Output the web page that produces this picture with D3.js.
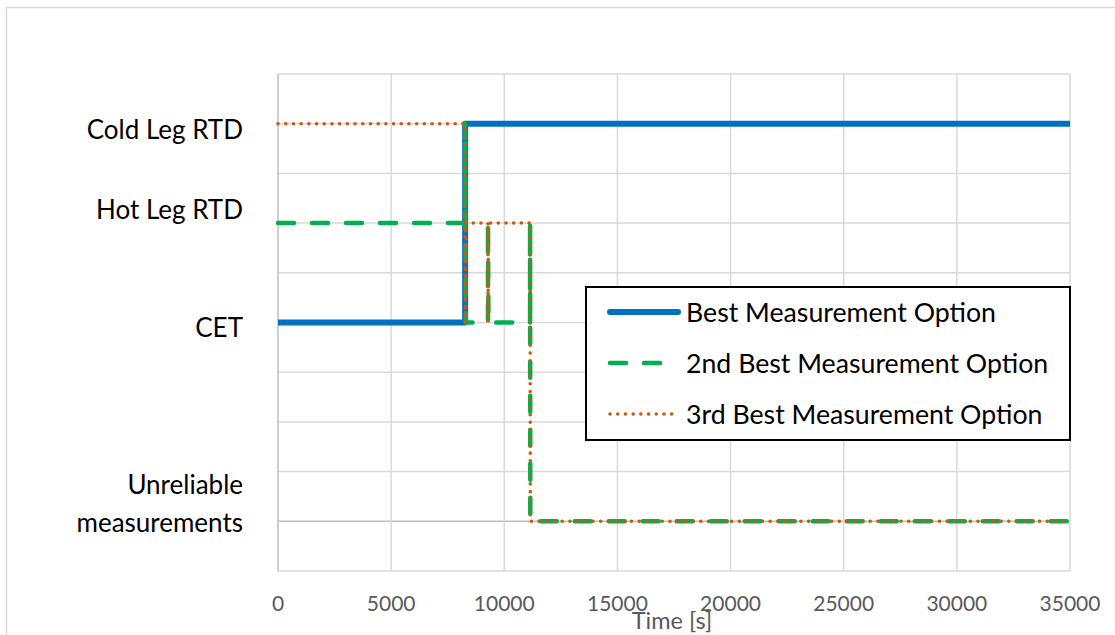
<!DOCTYPE html>
<html lang="en">
  <head>
    <meta charset="UTF-8" />
    <title>Measurement options</title>
    <style>
      body { margin: 0; background: #fff; }
      text { font-family: Lato, "Open Sans", sans-serif; }
    </style>
  </head>
  <body>
    <div id="chart"></div>
    <script src="https://cdn.jsdelivr.net/npm/d3@7"></script>
    <script>
      // levels on the y axis
      const levelNames = ["Cold Leg RTD", "Hot Leg RTD", "CET", "Unreliable\nmeasurements"];
      const levelValues = [9, 7, 5, 1];

      const xTicks = [0, 5000, 10000, 15000, 20000, 25000, 30000, 35000];

      // [time s, level]
      const bestData = [[0, 5], [8270, 5], [8270, 9], [35000, 9]];
      const secondData = [[0, 7], [8270, 7], [8270, 9], [8300, 5], [9280, 5], [9280, 7], [9300, 5],
        [11140, 5], [11140, 7], [11150, 1], [35000, 1]];
      const thirdData = [[0, 9], [8270, 9], [8270, 5], [8300, 7], [9280, 7], [9280, 5], [9300, 7],
        [11140, 7], [11150, 1], [35000, 1]];

      const seriesNames = ["Best Measurement Option", "2nd Best Measurement Option", "3rd Best Measurement Option"];

      const W = 1115, H = 635;
      const svg = d3.select("#chart").append("svg").attr("width", W).attr("height", H);

      // outer chart border
      svg.append("rect").attr("x", 6.5).attr("y", 7.5).attr("width", 1120).attr("height", 640)
        .attr("fill", "none").attr("stroke", "#d9d9d9").attr("stroke-width", 1.5);

      const x = d3.scaleLinear().domain([0, 35000]).range([278, 1070]);
      const y = d3.scaleLinear().domain([0, 10]).range([571, 74]);

      const grid = svg.append("g");
      grid.selectAll(".hg").data(d3.range(0, 11)).join("line")
        .attr("x1", x(0)).attr("x2", x(35000))
        .attr("y1", d => y(d)).attr("y2", d => y(d))
        .attr("stroke", d => d === 1 ? "#bfbfbf" : "#d9d9d9").attr("stroke-width", 1.5);
      grid.selectAll(".vg").data(xTicks.slice(1)).join("line")
        .attr("x1", d => x(d)).attr("x2", d => x(d))
        .attr("y1", y(10)).attr("y2", y(0))
        .attr("stroke", "#d9d9d9").attr("stroke-width", 1.5);
      grid.append("line").attr("x1", x(0)).attr("x2", x(0)).attr("y1", y(10)).attr("y2", y(0))
        .attr("stroke", "#bfbfbf").attr("stroke-width", 1.5);

      // x axis labels
      svg.append("g").selectAll("text").data(xTicks).join("text")
        .attr("x", d => x(d)).attr("y", 611)
        .attr("text-anchor", "middle").attr("font-size", 21).attr("fill", "#595959")
        .text(d => d);
      svg.append("text").attr("x", 672).attr("y", 629).attr("text-anchor", "middle")
        .attr("font-size", 23.5).attr("fill", "#595959").text("Time [s]");

      // y category labels
      const labelShift = { "Cold Leg RTD": 15, "Hot Leg RTD": -4, "CET": 14, "Unreliable\nmeasurements": -27 };
      levelNames.forEach((name, i) => {
        const t = svg.append("text").attr("text-anchor", "end").attr("font-size", 26).attr("fill", "#000")
          .attr("x", 243).attr("y", y(levelValues[i]) + labelShift[name]);
        name.split("\n").forEach((line, j) => {
          t.append("tspan").attr("x", 243).attr("dy", j === 0 ? 0 : 38).text(line);
        });
      });

      const line = d3.line().x(d => x(d[0])).y(d => y(d[1]));

      const styles = [
        { color: "#0070c0", width: 6, dash: null, cap: "butt" },
        { color: "#00b050", width: 4.5, dash: "16,18", cap: "round" },
        { color: "#c55a11", width: 3.5, dash: "0.1,7.6", cap: "round" }
      ];
      const allData = [bestData, secondData, thirdData];

      allData.forEach((data, i) => {
        const s = styles[i];
        svg.append("path").datum(data).attr("d", line)
          .attr("fill", "none").attr("stroke", s.color).attr("stroke-width", s.width)
          .attr("stroke-dasharray", s.dash).attr("stroke-linecap", s.cap)
          .attr("stroke-linejoin", "round");
      });

      // legend
      const lg = svg.append("g");
      lg.append("rect").attr("x", 586).attr("y", 287).attr("width", 484).attr("height", 153)
        .attr("fill", "#fff").attr("stroke", "#000").attr("stroke-width", 2);
      seriesNames.forEach((name, i) => {
        const s = styles[i];
        const ly = 312 + i * 51;
        lg.append("line").attr("x1", 610).attr("x2", i === 2 ? 674 : 678).attr("y1", ly).attr("y2", ly)
          .attr("stroke", s.color).attr("stroke-width", s.width)
          .attr("stroke-dasharray", s.dash).attr("stroke-linecap", "round");
        lg.append("text").attr("x", 686).attr("y", ly + 9.5).attr("font-size", 26.7).attr("fill", "#000")
          .text(name);
      });
    </script>
  </body>
</html>
